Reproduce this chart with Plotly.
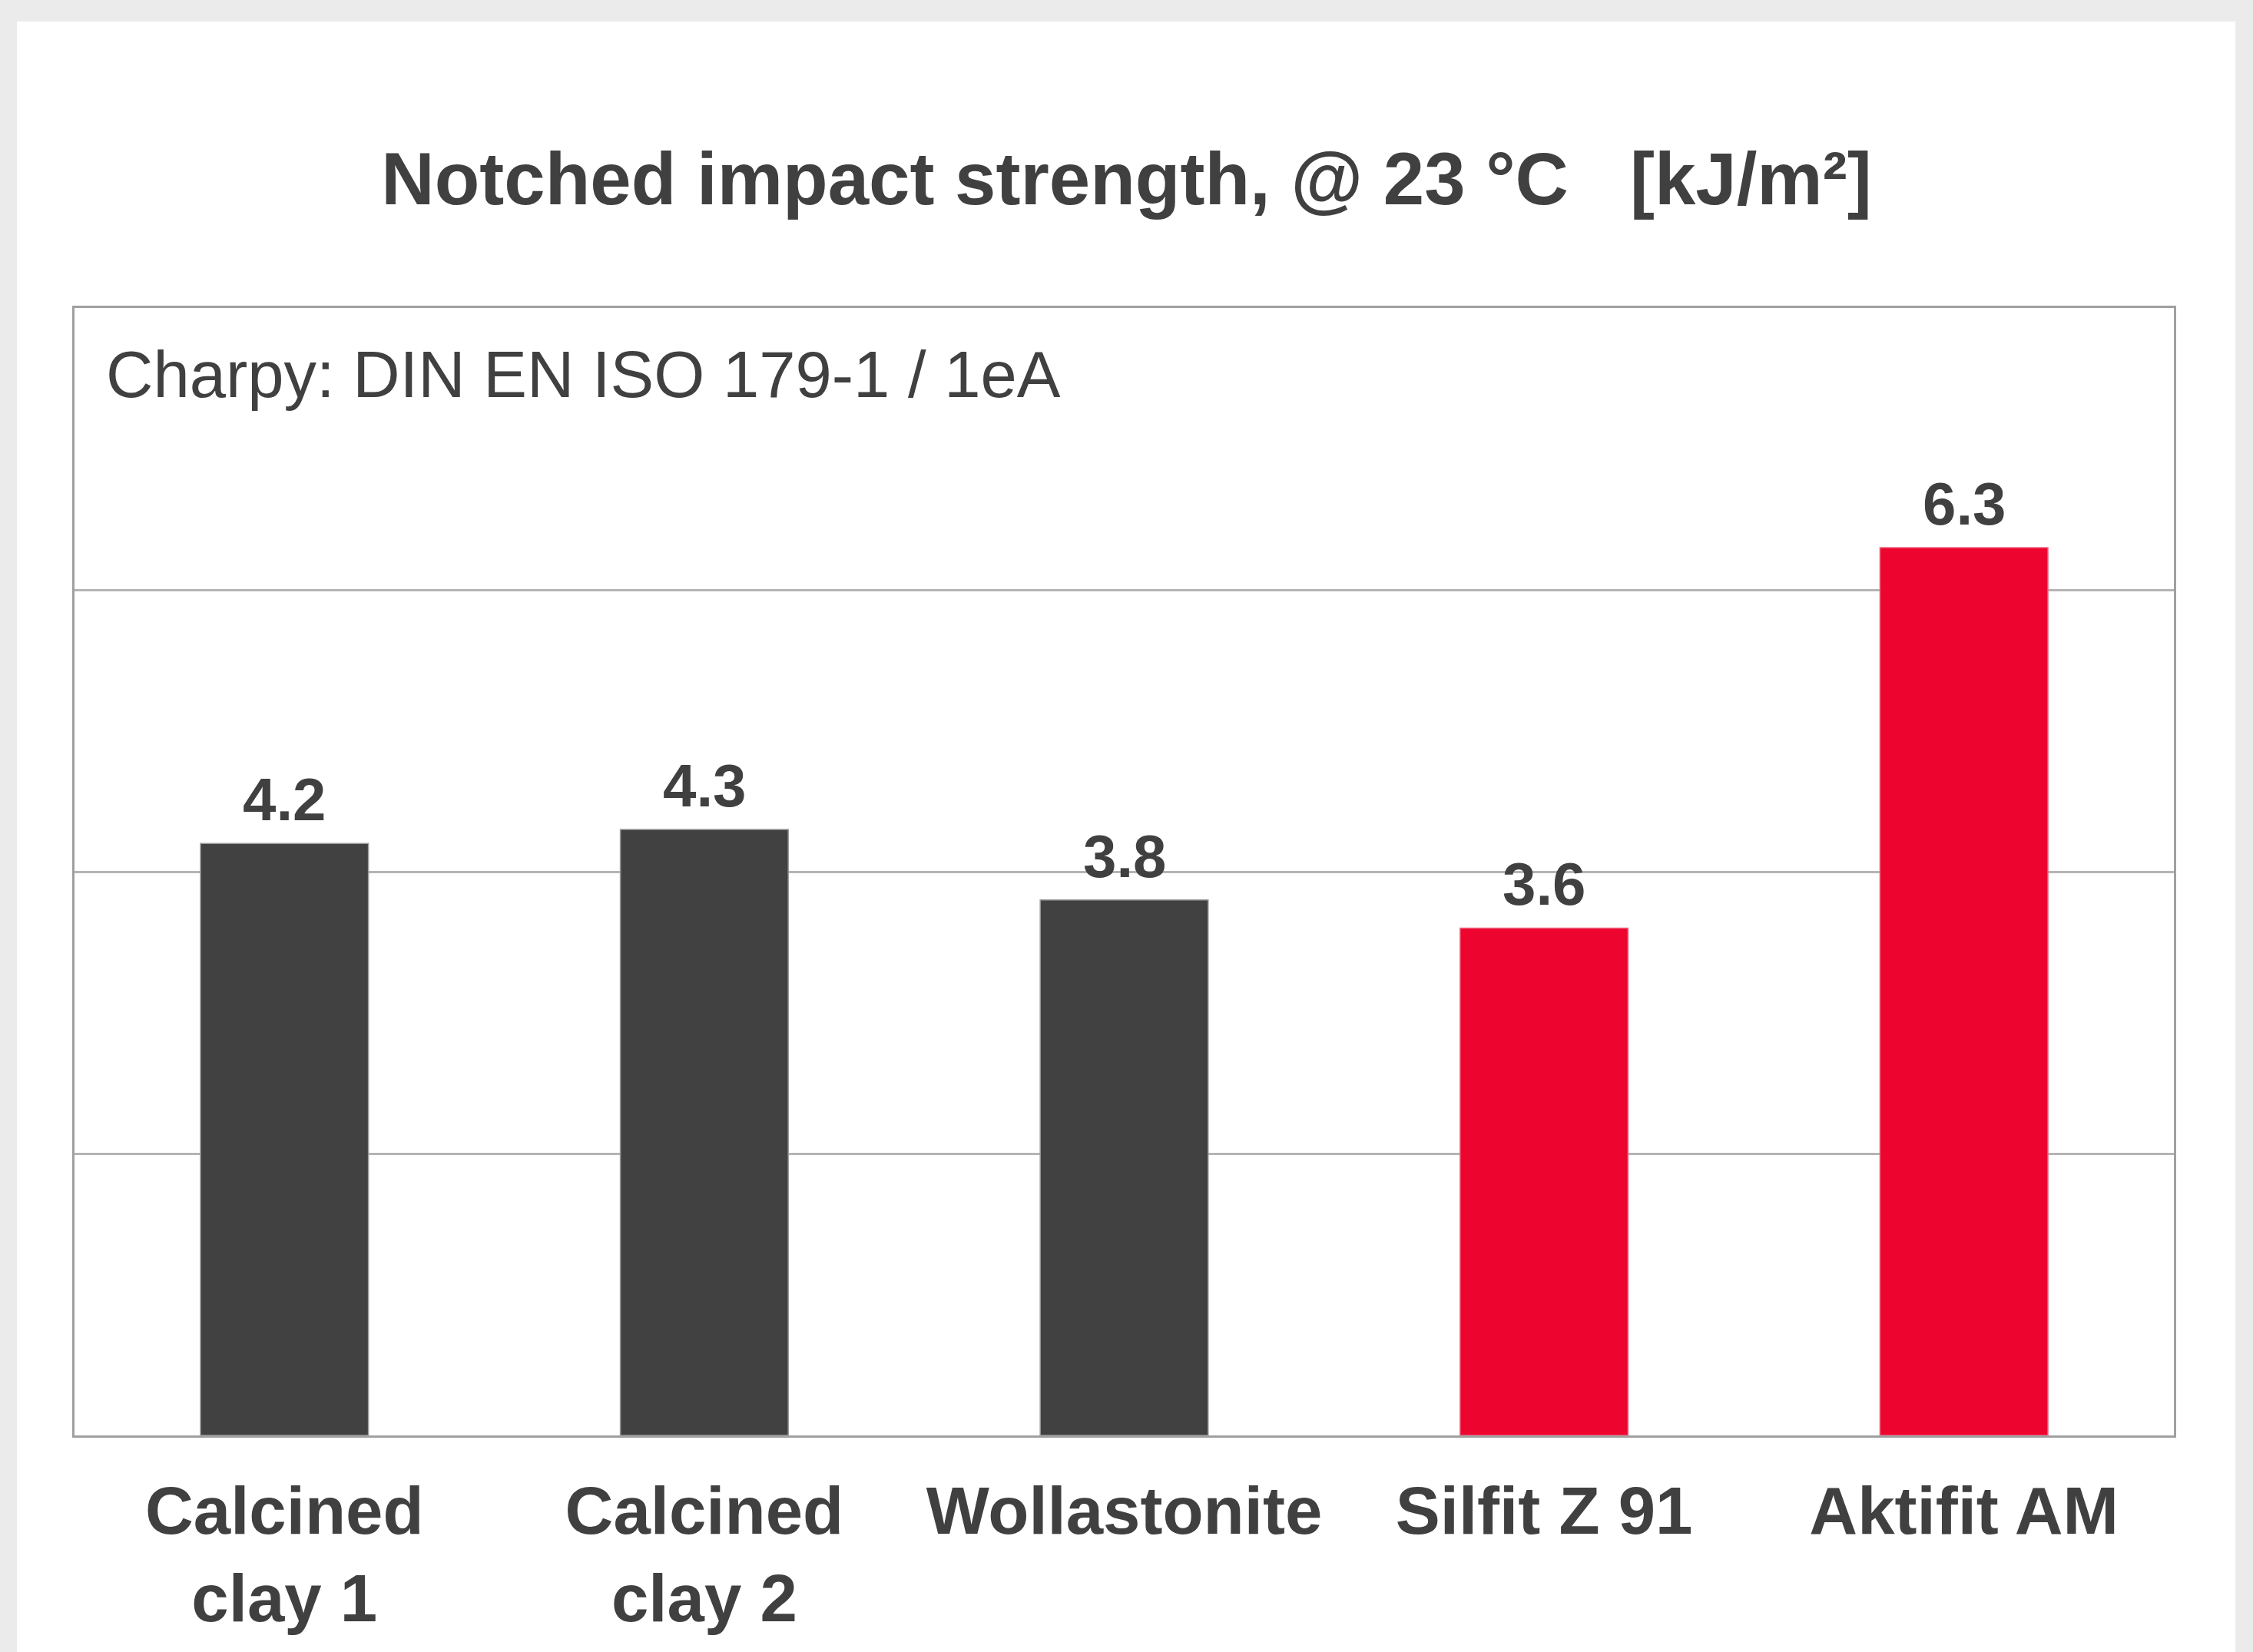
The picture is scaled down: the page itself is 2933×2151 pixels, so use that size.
import plotly.graph_objects as go

categories = ["Calcined<br>clay 1", "Calcined<br>clay 2", "Wollastonite", "Silfit Z 91", "Aktifit AM"]
values = [4.2, 4.3, 3.8, 3.6, 6.3]
value_labels = ["4.2", "4.3", "3.8", "3.6", "6.3"]
bar_colors = ["#414141", "#414141", "#414141", "#ED0530", "#ED0530"]
bar_edges = ["#9a9a9a", "#9a9a9a", "#9a9a9a", "#f06a80", "#f06a80"]

title_text = "Notched impact strength, @ 23 °C&nbsp;&nbsp; [kJ/m²]"
subtitle_text = "Charpy: DIN EN ISO 179-1 / 1eA"

W, H = 2933, 2151
L, R, T, B = 97, 103, 401, 282
plot_w = W - L - R
plot_h = H - T - B

FONT = "Liberation Sans, Arial, sans-serif"
TXT = "#404040"

fig = go.Figure(
    go.Bar(
        x=categories,
        y=values,
        marker=dict(color=bar_colors, line=dict(color=bar_edges, width=1.5)),
        hoverinfo="skip",
    )
)

def px_x(px):
    return (px - L) / plot_w

def px_y(py):
    return (H - B - py) / plot_h

value_annotations = [
    dict(
        x=c,
        y=v,
        xref="x",
        yref="y",
        text=t,
        showarrow=False,
        xanchor="center",
        yanchor="bottom",
        yshift=11,
        font=dict(family=FONT, size=78, color=TXT, weight="bold"),
    )
    for c, v, t in zip(categories, values, value_labels)
]

fig.update_layout(
    width=W,
    height=H,
    margin=dict(l=L, r=R, t=T, b=B, pad=0, autoexpand=False),
    paper_bgcolor="#ebebeb",
    plot_bgcolor="white",
    bargap=0.6,
    showlegend=False,
    title=dict(
        text=title_text,
        x=0.5,
        xref="container",
        xanchor="center",
        y=1 - 232 / H,
        yref="container",
        yanchor="middle",
        font=dict(family=FONT, size=96, color=TXT, weight="bold"),
    ),
    shapes=[
        dict(
            type="rect",
            xref="paper",
            yref="paper",
            x0=px_x(22),
            x1=px_x(2910),
            y0=px_y(H + 20),
            y1=px_y(28),
            fillcolor="white",
            line=dict(width=0),
            layer="below",
        )
    ],
    annotations=[
        dict(
            text=subtitle_text,
            xref="paper",
            yref="paper",
            x=px_x(136),
            y=px_y(488),
            xanchor="left",
            yanchor="middle",
            showarrow=False,
            font=dict(family=FONT, size=85, color=TXT),
        )
    ]
    + value_annotations,
)

fig.update_xaxes(
    automargin=False,
    showgrid=False,
    showline=True,
    mirror=True,
    linecolor="#a0a0a0",
    linewidth=3,
    ticks="",
    ticklabelstandoff=21,
    tickfont=dict(family=FONT, size=87, color=TXT, weight="bold"),
)
fig.update_yaxes(
    automargin=False,
    range=[0, 8],
    dtick=2,
    showgrid=True,
    gridcolor="#b4b4b4",
    gridwidth=3,
    zeroline=False,
    showline=True,
    mirror=True,
    linecolor="#a0a0a0",
    linewidth=3,
    showticklabels=False,
    ticks="",
)

fig.write_html(
    "out.html",
    config={"displayModeBar": False, "staticPlot": True},
    post_script="document.body.style.margin='0';document.body.style.overflow='hidden';",
)
